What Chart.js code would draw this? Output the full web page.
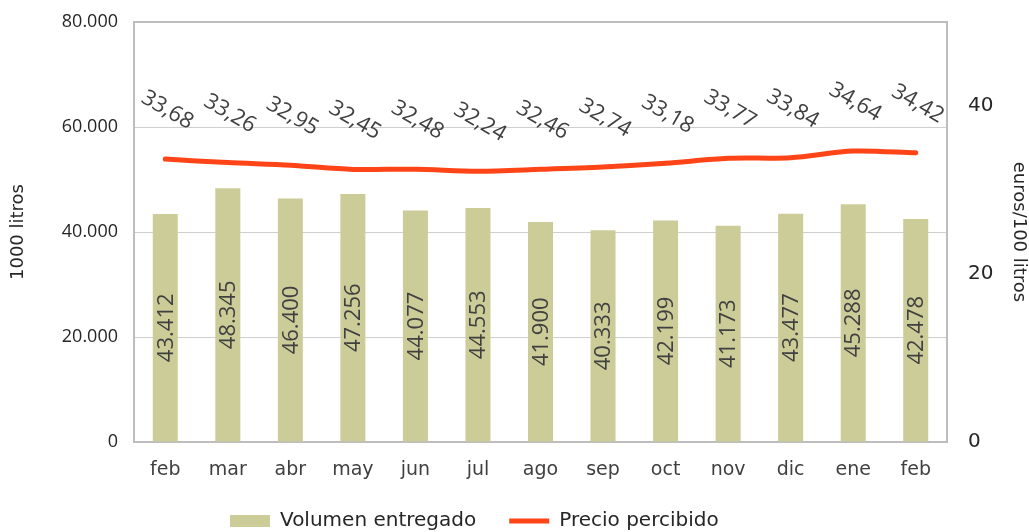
<!DOCTYPE html>
<html>
<head>
<meta charset="utf-8">
<script src="https://cdn.jsdelivr.net/npm/chart.js@4"></script>
<style>
  html, body { margin: 0; padding: 0; background: #fff; }
  #wrap { width: 1029px; height: 532px; }
</style>
</head>
<body>
<div id="wrap"><canvas id="chart" width="1029" height="532"></canvas></div>
<script>
// datos del gráfico
const meses = ['feb', 'mar', 'abr', 'may', 'jun', 'jul', 'ago', 'sep', 'oct', 'nov', 'dic', 'ene', 'feb'];
const volumen = [43412, 48345, 46400, 47256, 44077, 44553, 41900, 40333, 42199, 41173, 43477, 45288, 42478];
const precio = [33.68, 33.26, 32.95, 32.45, 32.48, 32.24, 32.46, 32.74, 33.18, 33.77, 33.84, 34.64, 34.42];
const ticksVolumen = [0, 20000, 40000, 60000, 80000];
const ticksPrecio = [0, 20, 40];

const GOTHIC = '"DejaVu Sans", sans-serif';
const LABEL_FONT = '"Open Sans", "Noto Sans", sans-serif';

const miles = v => String(v).replace(/\B(?=(\d{3})+(?!\d))/g, '.');
const coma = v => v.toFixed(2).replace('.', ',');

// etiquetas de datos (sin plugin externo)
const etiquetas = {
  id: 'etiquetas',
  afterDatasetsDraw(chart) {
    const ctx = chart.ctx;
    ctx.save();
    ctx.fillStyle = '#404040';
    ctx.textAlign = 'center';
    ctx.textBaseline = 'middle';
    ctx.font = '22px ' + LABEL_FONT;

    // barras: texto vertical centrado en la barra
    chart.getDatasetMeta(0).data.forEach((bar, i) => {
      const cy = (bar.y + bar.base) / 2;
      ctx.save();
      ctx.translate(bar.x, cy);
      ctx.rotate(-Math.PI / 2);
      ctx.fillText(miles(volumen[i]), 0, 1);
      ctx.restore();
    });

    // línea: texto inclinado encima del punto
    chart.getDatasetMeta(1).data.forEach((pt, i) => {
      ctx.save();
      ctx.translate(pt.x + 2, pt.y - 49);
      ctx.rotate(Math.PI / 6);
      ctx.fillText(coma(precio[i]), 0, 0);
      ctx.restore();
    });
    ctx.restore();
  }
};

// borde superior y derecho del área
const marco = {
  id: 'marco',
  beforeDatasetsDraw(chart) {
    const { ctx, chartArea: a } = chart;
    ctx.save();
    ctx.strokeStyle = '#bdbdbd';
    ctx.lineWidth = 2;
    ctx.beginPath();
    ctx.moveTo(a.left, a.top);
    ctx.lineTo(a.right, a.top);
    ctx.lineTo(a.right, a.bottom);
    ctx.stroke();
    ctx.restore();
  }
};

// leyenda: alto fijo, un poco más arriba y desplazada a la izquierda
const ajusteLeyenda = {
  id: 'ajusteLeyenda',
  beforeLayout(chart) {
    const lg = chart.legend;
    if (lg && !lg._alto) {
      const fit = lg.fit;
      lg.fit = function () { fit.call(this); this.height = 50; };
      lg._alto = true;
    }
  },
  afterLayout(chart) {
    const lg = chart.legend;
    if (!lg) return;
    lg.top -= 4;
    lg.left = 197;
  }
};

new Chart(document.getElementById('chart'), {
  data: {
    labels: meses,
    datasets: [
      {
        type: 'bar',
        label: 'Volumen entregado',
        data: volumen,
        yAxisID: 'y',
        backgroundColor: '#cccc99',
        borderWidth: 0,
        barPercentage: 0.8,
        categoryPercentage: 0.5,
        pointStyle: 'rect'
      },
      {
        type: 'line',
        label: 'Precio percibido',
        data: precio,
        yAxisID: 'y2',
        borderColor: '#ff4517',
        backgroundColor: '#ff4517',
        borderWidth: 5,
        borderCapStyle: 'round',
        pointRadius: 0,
        pointStyle: 'line',
        tension: 0.3
      }
    ]
  },
  options: {
    responsive: false,
    animation: false,
    layout: { padding: { top: 22, left: 0, right: 0, bottom: 0 } },
    scales: {
      x: {
        grid: { display: false, drawTicks: false },
        border: { display: true, color: '#bdbdbd', width: 2 },
        ticks: { color: '#404040', font: { family: GOTHIC, size: 19 }, padding: 17, maxRotation: 0 },
        afterFit: s => { s.height = 40; }
      },
      y: {
        position: 'left',
        min: 0,
        max: 80000,
        afterBuildTicks: s => { s.ticks = ticksVolumen.map(v => ({ value: v })); },
        grid: { color: '#cfcfcf', lineWidth: 1, drawTicks: true, tickLength: 14, tickColor: 'rgba(0,0,0,0)' },
        border: { display: true, color: '#bdbdbd', width: 2 },
        ticks: { color: '#262626', font: { family: LABEL_FONT, size: 18 }, padding: 2, callback: v => miles(v) },
        title: { display: true, text: '1000 litros', color: '#262626', font: { family: GOTHIC, size: 18 }, padding: { top: 8, bottom: 0 } },
        afterFit: s => { s.width = 134; }
      },
      y2: {
        position: 'right',
        min: 0,
        max: 50,
        afterBuildTicks: s => { s.ticks = ticksPrecio.map(v => ({ value: v })); },
        grid: { display: false, drawTicks: true, tickLength: 19 },
        border: { display: false },
        ticks: { color: '#262626', font: { family: GOTHIC, size: 20 }, padding: 2 },
        title: { display: true, text: 'euros/100 litros', color: '#262626', font: { family: GOTHIC, size: 18 }, padding: { top: 0, bottom: 0 } },
        afterFit: s => { s.width = 82; }
      }
    },
    plugins: {
      legend: {
        position: 'bottom',
        align: 'start',
        labels: {
          usePointStyle: true,
          pointStyleWidth: 40,
          boxHeight: 12,
          color: '#262626',
          font: { family: GOTHIC, size: 20 },
          padding: 33,
          sort: (a, b) => a.datasetIndex - b.datasetIndex
        }
      },
      tooltip: { enabled: false }
    }
  },
  plugins: [ajusteLeyenda, marco, etiquetas]
});
</script>
</body>
</html>
